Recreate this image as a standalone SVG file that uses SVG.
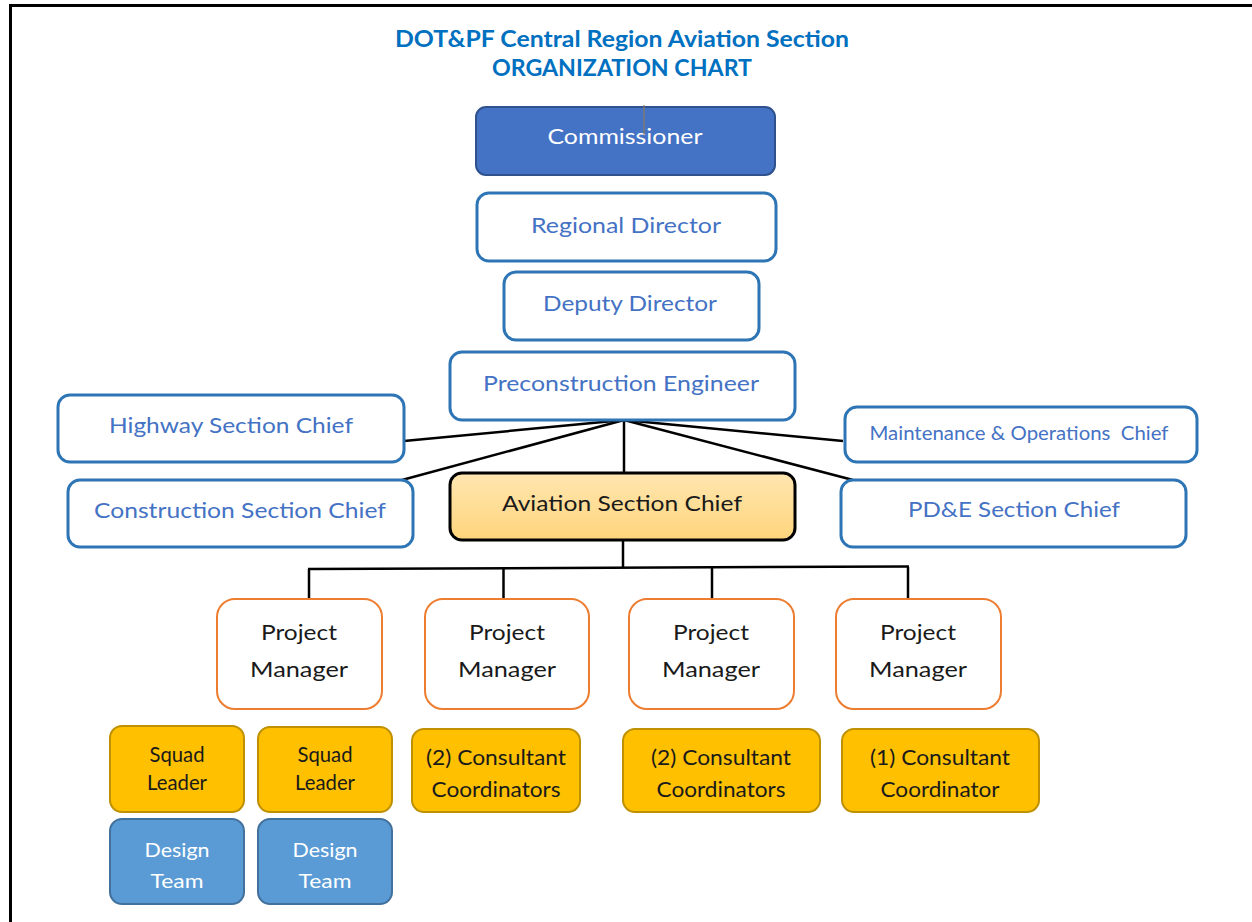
<svg xmlns="http://www.w3.org/2000/svg" width="1252" height="922" viewBox="0 0 1252 922">
  <defs>
    <linearGradient id="goldFill" x1="0" y1="0" x2="0" y2="1">
      <stop offset="0" stop-color="#FFE6B0"/>
      <stop offset="1" stop-color="#FFD57C"/>
    </linearGradient>
    <style>
      text { font-family: Lato, "Open Sans", "Liberation Sans", sans-serif; text-anchor: middle; }
      .title { font-weight: bold; font-size: 22px; fill: #0070C0; }
      .exec rect { fill: #4472C4; stroke: #2F528F; stroke-width: 2; }
      .exec text { fill: #FFFFFF; font-size: 22px; }
      .staff rect { fill: #FFFFFF; stroke: #2E75B6; stroke-width: 3; }
      .staff text { fill: #4472C4; font-size: 22px; }
      .chief rect { fill: url(#goldFill); stroke: #000000; stroke-width: 3; }
      .chief text { fill: #1A1A1A; font-size: 22px; }
      .pm rect { fill: #FFFFFF; stroke: #ED7D31; stroke-width: 2; }
      .pm text { fill: #1A1A1A; font-size: 22px; }
      .squad rect { fill: #FFC000; stroke: #BF9000; stroke-width: 2; }
      .squad text { fill: #1A1A1A; font-size: 20.5px; }
      .design rect { fill: #5B9BD5; stroke: #41719C; stroke-width: 2; }
      .design text { fill: #FFFFFF; font-size: 20px; }
      .links line { stroke: #000000; stroke-width: 2.5; fill: none; }
    </style>
  </defs>

  <rect width="1252" height="922" fill="#FFFFFF"/>

  <!-- page frame -->
  <g id="frame" stroke="#000000" stroke-width="3" fill="none">
    <line x1="9" y1="5.5" x2="1252" y2="5.5"/>
    <line x1="10.5" y1="5" x2="10.5" y2="922"/>
  </g>

  <!-- heading -->
  <g id="heading">
    <text class="title" x="622" y="47" textLength="454" lengthAdjust="spacingAndGlyphs">DOT&amp;PF Central Region Aviation Section</text>
    <text class="title" x="622" y="76" textLength="260" lengthAdjust="spacingAndGlyphs">ORGANIZATION CHART</text>
  </g>

  <!-- connectors -->
  <g id="connectors" class="links">
    <line x1="624" y1="420" x2="404" y2="441"/>
    <line x1="624" y1="420" x2="402" y2="480"/>
    <line x1="624" y1="420" x2="843" y2="441"/>
    <line x1="624" y1="420" x2="853" y2="480"/>
    <line x1="624" y1="420" x2="624" y2="473"/>
    <line x1="623" y1="541" x2="623" y2="568"/>
    <line x1="308" y1="569" x2="909" y2="566.5"/>
    <line x1="309" y1="569" x2="309" y2="600"/>
    <line x1="503.5" y1="568.5" x2="503.5" y2="600"/>
    <line x1="712" y1="567.5" x2="712" y2="600"/>
    <line x1="908" y1="567" x2="908" y2="600"/>
  </g>

  <!-- executive chain -->
  <g id="commissioner" class="exec">
    <rect x="476" y="107" width="299" height="68" rx="10"/>
    <text x="625" y="144" textLength="155" lengthAdjust="spacingAndGlyphs">Commissioner</text>
  </g>
  <line id="marker-tick" x1="644" y1="105" x2="644" y2="135" stroke="#8C7A5E" stroke-width="1.2"/>

  <g id="regional-director" class="staff">
    <rect x="477" y="193" width="299" height="68" rx="12"/>
    <text x="626" y="233" textLength="190" lengthAdjust="spacingAndGlyphs">Regional Director</text>
  </g>

  <g id="deputy-director" class="staff">
    <rect x="504" y="272" width="255" height="68" rx="12"/>
    <text x="630" y="311" textLength="174" lengthAdjust="spacingAndGlyphs">Deputy Director</text>
  </g>

  <g id="preconstruction-engineer" class="staff">
    <rect x="450" y="352" width="345" height="68" rx="12"/>
    <text x="621" y="391" textLength="276" lengthAdjust="spacingAndGlyphs">Preconstruction Engineer</text>
  </g>

  <!-- section chiefs -->
  <g id="highway-section-chief" class="staff">
    <rect x="58" y="395" width="346" height="67" rx="12"/>
    <text x="231" y="433" textLength="244" lengthAdjust="spacingAndGlyphs">Highway Section Chief</text>
  </g>

  <g id="construction-section-chief" class="staff">
    <rect x="68" y="480" width="345" height="67" rx="12"/>
    <text x="240" y="518" textLength="292" lengthAdjust="spacingAndGlyphs">Construction Section Chief</text>
  </g>

  <g id="maintenance-operations-chief" class="staff">
    <rect x="845" y="407" width="352" height="55" rx="12"/>
    <text x="1019" y="440" style="font-size:19.5px; white-space:pre" textLength="299" lengthAdjust="spacingAndGlyphs">Maintenance &amp; Operations  Chief</text>
  </g>

  <g id="pde-section-chief" class="staff">
    <rect x="841" y="480" width="345" height="67" rx="12"/>
    <text x="1014" y="517" textLength="212" lengthAdjust="spacingAndGlyphs">PD&amp;E Section Chief</text>
  </g>

  <g id="aviation-section-chief" class="chief">
    <rect x="450" y="473" width="345" height="67" rx="12"/>
    <text x="622" y="511" textLength="240" lengthAdjust="spacingAndGlyphs">Aviation Section Chief</text>
  </g>

  <!-- project managers -->
  <g id="project-manager-1" class="pm">
    <rect x="217" y="599" width="165" height="110" rx="18"/>
    <text x="299" y="640" textLength="76" lengthAdjust="spacingAndGlyphs">Project</text>
    <text x="299" y="677" textLength="98" lengthAdjust="spacingAndGlyphs">Manager</text>
  </g>
  <g id="project-manager-2" class="pm">
    <rect x="425" y="599" width="164" height="110" rx="18"/>
    <text x="507" y="640" textLength="76" lengthAdjust="spacingAndGlyphs">Project</text>
    <text x="507" y="677" textLength="98" lengthAdjust="spacingAndGlyphs">Manager</text>
  </g>
  <g id="project-manager-3" class="pm">
    <rect x="629" y="599" width="165" height="110" rx="18"/>
    <text x="711" y="640" textLength="76" lengthAdjust="spacingAndGlyphs">Project</text>
    <text x="711" y="677" textLength="98" lengthAdjust="spacingAndGlyphs">Manager</text>
  </g>
  <g id="project-manager-4" class="pm">
    <rect x="836" y="599" width="165" height="110" rx="18"/>
    <text x="918" y="640" textLength="76" lengthAdjust="spacingAndGlyphs">Project</text>
    <text x="918" y="677" textLength="98" lengthAdjust="spacingAndGlyphs">Manager</text>
  </g>

  <!-- staff under project managers -->
  <g id="squad-leader-1" class="squad">
    <rect x="110" y="726" width="134" height="86" rx="12"/>
    <text x="177" y="762" textLength="55" lengthAdjust="spacingAndGlyphs">Squad</text>
    <text x="177" y="790" textLength="60" lengthAdjust="spacingAndGlyphs">Leader</text>
  </g>
  <g id="squad-leader-2" class="squad">
    <rect x="258" y="727" width="134" height="85" rx="12"/>
    <text x="325" y="762" textLength="55" lengthAdjust="spacingAndGlyphs">Squad</text>
    <text x="325" y="790" textLength="60" lengthAdjust="spacingAndGlyphs">Leader</text>
  </g>
  <g id="design-team-1" class="design">
    <rect x="110" y="819" width="134" height="85" rx="12"/>
    <text x="177" y="857" textLength="65" lengthAdjust="spacingAndGlyphs">Design</text>
    <text x="177" y="888" textLength="53" lengthAdjust="spacingAndGlyphs">Team</text>
  </g>
  <g id="design-team-2" class="design">
    <rect x="258" y="819" width="134" height="85" rx="12"/>
    <text x="325" y="857" textLength="65" lengthAdjust="spacingAndGlyphs">Design</text>
    <text x="325" y="888" textLength="53" lengthAdjust="spacingAndGlyphs">Team</text>
  </g>

  <g id="consultant-coordinators-a" class="squad">
    <rect x="412" y="729" width="168" height="83" rx="12"/>
    <text x="496" y="765" textLength="140" lengthAdjust="spacingAndGlyphs">(2) Consultant</text>
    <text x="496" y="797" textLength="129" lengthAdjust="spacingAndGlyphs">Coordinators</text>
  </g>
  <g id="consultant-coordinators-b" class="squad">
    <rect x="623" y="729" width="197" height="83" rx="12"/>
    <text x="721" y="765" textLength="140" lengthAdjust="spacingAndGlyphs">(2) Consultant</text>
    <text x="721" y="797" textLength="129" lengthAdjust="spacingAndGlyphs">Coordinators</text>
  </g>
  <g id="consultant-coordinator-c" class="squad">
    <rect x="842" y="729" width="197" height="83" rx="12"/>
    <text x="940" y="765" textLength="140" lengthAdjust="spacingAndGlyphs">(1) Consultant</text>
    <text x="940" y="797" textLength="119" lengthAdjust="spacingAndGlyphs">Coordinator</text>
  </g>
</svg>
